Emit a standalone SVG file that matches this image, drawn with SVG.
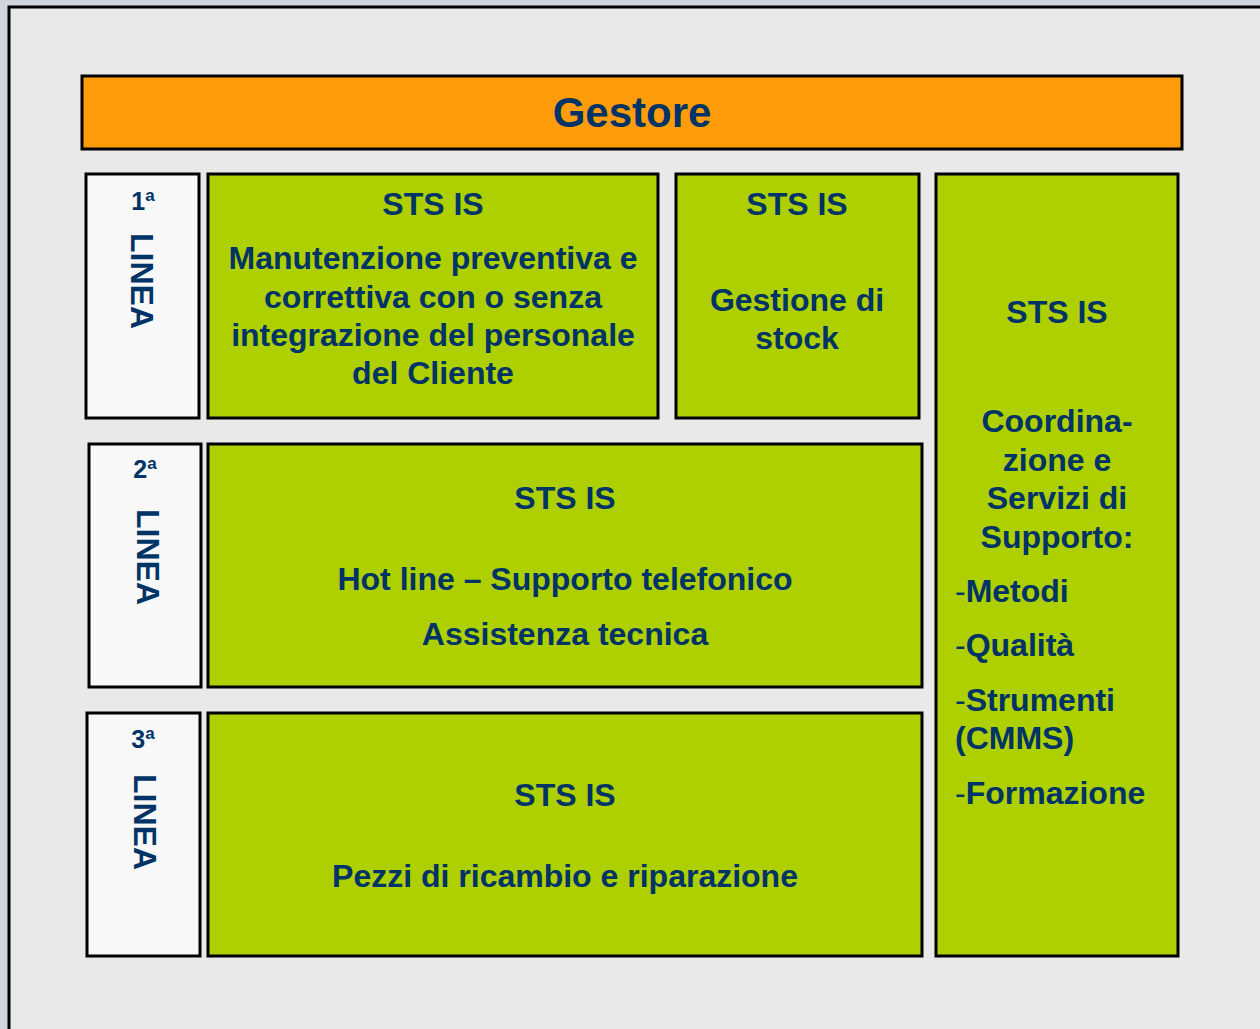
<svg xmlns="http://www.w3.org/2000/svg" width="1260" height="1029" viewBox="0 0 1260 1029">
<style>
.box{stroke:#000;stroke-width:3}
.g{fill:#aecf00}
.w{fill:#f8f8f8}
.o{fill:#ff9c0a}
text{font-family:"Liberation Sans",Arial,sans-serif;font-weight:bold;fill:#003366}
.t{font-size:32px;text-anchor:middle}
.l{font-size:32px}
.lin{font-size:32px;text-anchor:middle}
.num{font-size:25px;text-anchor:middle}
.d{font-weight:normal}
</style>
<rect x="0" y="0" width="1260" height="1029" fill="#d2d5dd"/>
<rect x="9" y="7" width="1270" height="1040" fill="#e9e9e9" stroke="#000" stroke-width="3"/>
<g id="gestore"><rect class="box o" x="82" y="76" width="1100" height="73"/><text x="632" y="127" style="font-size:42px;text-anchor:middle">Gestore</text></g>
<g id="linea1"><rect class="box w" x="86" y="174" width="113" height="244"/><text class="num" x="143" y="210">1<tspan font-size="17" dy="-9">a</tspan></text><text class="lin" transform="translate(131,281) rotate(90)">LINEA</text></g>
<g id="linea2"><rect class="box w" x="89" y="444" width="112" height="243"/><text class="num" x="145" y="478">2<tspan font-size="17" dy="-9">a</tspan></text><text class="lin" transform="translate(137,557) rotate(90)">LINEA</text></g>
<g id="linea3"><rect class="box w" x="87" y="713" width="113" height="243"/><text class="num" x="143" y="748">3<tspan font-size="17" dy="-9">a</tspan></text><text class="lin" transform="translate(134,822) rotate(90)">LINEA</text></g>
<g id="manutenzione"><rect class="box g" x="208" y="174" width="450" height="244"/>
<text class="t" x="433" y="215">STS IS</text>
<text class="t" x="433" y="269">Manutenzione preventiva e</text>
<text class="t" x="433" y="308">correttiva con o senza</text>
<text class="t" x="433" y="346">integrazione del personale</text>
<text class="t" x="433" y="384">del Cliente</text></g>
<g id="stock"><rect class="box g" x="676" y="174" width="243" height="244"/>
<text class="t" x="797" y="215">STS IS</text>
<text class="t" x="797" y="311">Gestione di</text>
<text class="t" x="797" y="349">stock</text></g>
<g id="hotline"><rect class="box g" x="208" y="444" width="714" height="243"/>
<text class="t" x="565" y="509">STS IS</text>
<text class="t" x="565" y="590">Hot line – Supporto telefonico</text>
<text class="t" x="565" y="645">Assistenza tecnica</text></g>
<g id="ricambi"><rect class="box g" x="208" y="713" width="714" height="243"/>
<text class="t" x="565" y="806">STS IS</text>
<text class="t" x="565" y="887">Pezzi di ricambio e riparazione</text></g>
<g id="coordinazione"><rect class="box g" x="936" y="174" width="242" height="782"/>
<text class="t" x="1057" y="323">STS IS</text>
<text class="t" x="1057" y="432">Coordina-</text>
<text class="t" x="1057" y="471">zione e</text>
<text class="t" x="1057" y="509">Servizi di</text>
<text class="t" x="1057" y="548">Supporto:</text>
<text class="l" x="955" y="602"><tspan class="d">-</tspan>Metodi</text>
<text class="l" x="955" y="656"><tspan class="d">-</tspan>Qualità</text>
<text class="l" x="955" y="711"><tspan class="d">-</tspan>Strumenti</text>
<text class="l" x="955" y="749">(CMMS)</text>
<text class="l" x="955" y="804"><tspan class="d">-</tspan>Formazione</text></g>
<g id="connectors"></g>
</svg>
